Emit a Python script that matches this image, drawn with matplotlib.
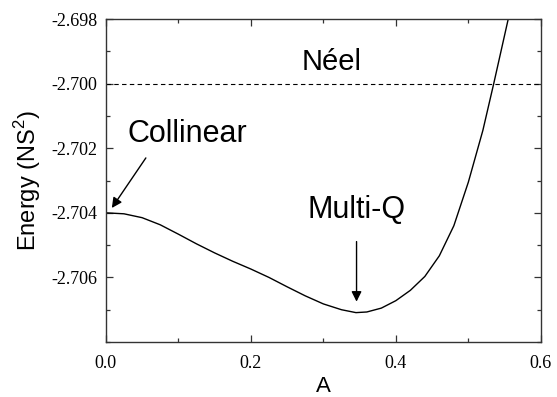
import numpy as np
import matplotlib
matplotlib.use("Agg")
import matplotlib.pyplot as plt
from matplotlib.ticker import MultipleLocator

# curve
A = [0.000, 0.025, 0.050, 0.075, 0.100, 0.125, 0.150, 0.175, 0.200, 0.225,
     0.250, 0.275, 0.300, 0.325, 0.345, 0.360, 0.380, 0.400, 0.420, 0.440,
     0.460, 0.480, 0.500, 0.520, 0.535, 0.555]
energy = [-2.70400, -2.70403, -2.70415, -2.70437, -2.70466, -2.70496, -2.70524,
          -2.70550, -2.70574, -2.70600, -2.70629, -2.70657, -2.70682, -2.70700,
          -2.70709, -2.70707, -2.70695, -2.70672, -2.70640, -2.70597, -2.70533,
          -2.70440, -2.70305, -2.70145, -2.70000, -2.69800]
neel_energy = -2.700

xticks = [0.0, 0.2, 0.4, 0.6]
xtick_labels = ["0.0", "0.2", "0.4", "0.6"]
yticks = [-2.706, -2.704, -2.702, -2.700, -2.698]
ytick_labels = ["-2.706", "-2.704", "-2.702", "-2.700", "-2.698"]

plt.rcParams['mathtext.fontset'] = 'custom'
plt.rcParams['mathtext.rm'] = 'Liberation Sans'

fig = plt.figure(figsize=(5.57, 3.97), dpi=100)
ax = fig.add_axes([0.190, 0.1385, 0.781, 0.8135])

ax.plot(A, energy, color='black', lw=1.0)
ax.axhline(neel_energy, color='black', lw=0.8, ls=(0, (4, 3)))

ax.set_xlim(0, 0.6)
ax.set_ylim(-2.708, -2.698)
ax.set_xticks(xticks)
ax.set_xticklabels(xtick_labels, family='Liberation Serif', fontsize=13)
ax.set_yticks(yticks)
ax.set_yticklabels(ytick_labels, family='Liberation Serif', fontsize=13)
ax.xaxis.set_minor_locator(MultipleLocator(0.1))
ax.yaxis.set_minor_locator(MultipleLocator(0.001))
ax.tick_params(which='both', direction='in', top=True, right=True, color='#333333')
ax.tick_params(which='major', length=5, width=0.9, pad=6)
ax.tick_params(axis='x', which='major', pad=9)
ax.tick_params(which='minor', length=3, width=0.9)
for s in ax.spines.values():
    s.set_linewidth(1.0)
    s.set_color('#333333')

ax.set_xlabel("A", family='Liberation Sans', fontsize=16, labelpad=3)
ax.set_ylabel(r"Energy (NS$^{\mathregular{2}}$)", family='Liberation Sans', fontsize=17, labelpad=6)

ax.text(0.3117, -2.69933, "Néel", family='Liberation Sans', fontsize=21,
        ha='center', va='center')
ax.text(0.0303, -2.70156, "Collinear", family='Liberation Sans', fontsize=22,
        ha='left', va='center')
ax.text(0.346, -2.70391, "Multi-Q", family='Liberation Sans', fontsize=22,
        ha='center', va='center')

arrow = dict(arrowstyle='-|>', color='black', lw=1.0, mutation_scale=15,
             shrinkA=0, shrinkB=0)
ax.annotate("", xy=(0.0083, -2.70385), xytext=(0.0552, -2.70230), arrowprops=arrow)
ax.annotate("", xy=(0.3458, -2.70675), xytext=(0.3458, -2.70489), arrowprops=arrow)

fig.savefig("out.png", dpi=100)
